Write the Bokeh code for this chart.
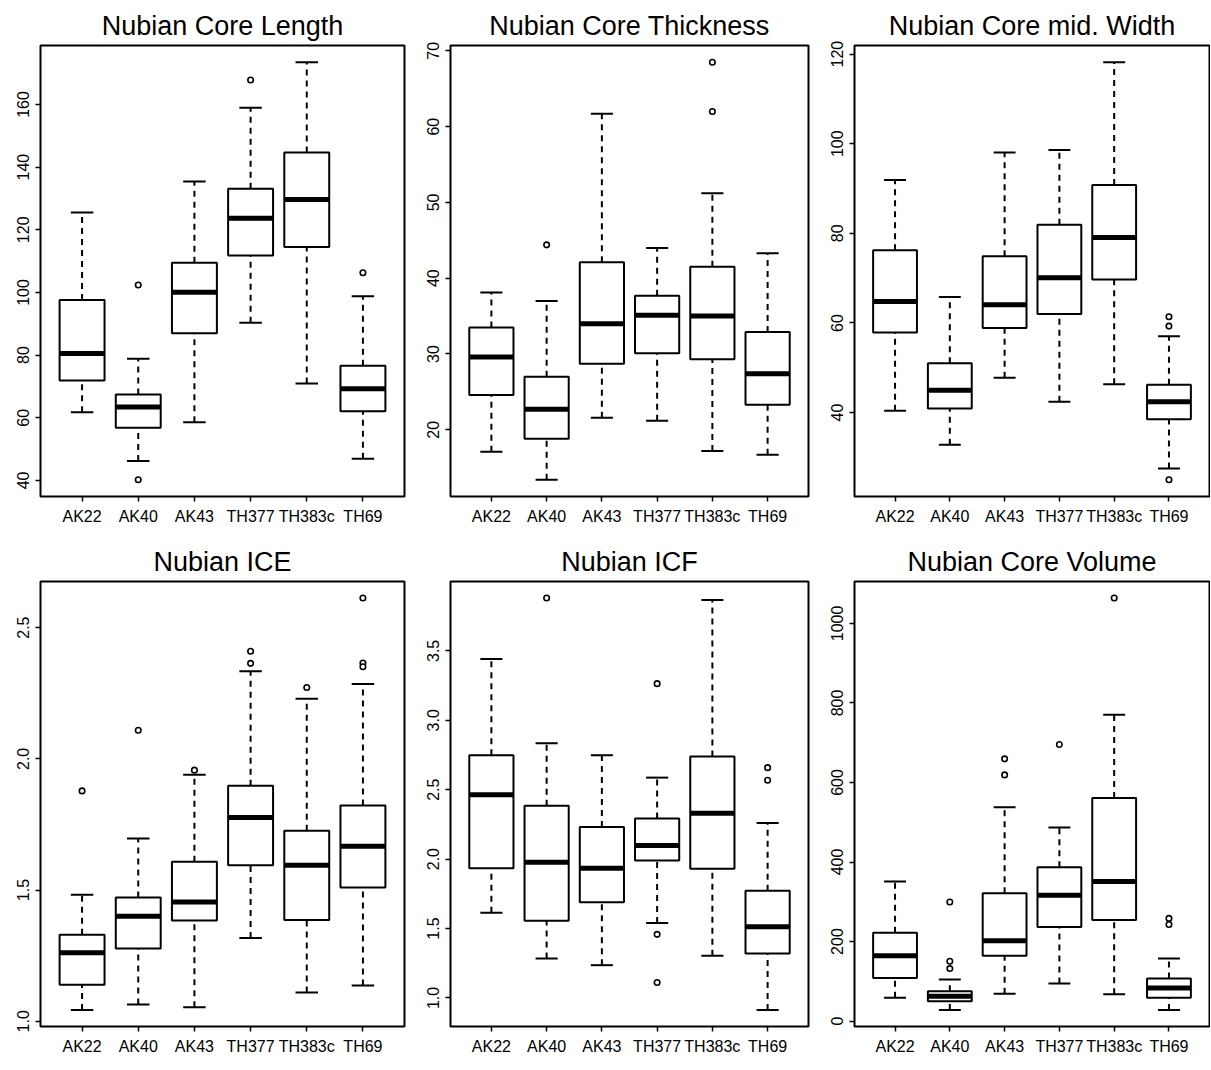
from bokeh.plotting import figure
from bokeh.layouts import gridplot
from bokeh.models import Range1d, FixedTicker
from bokeh.embed import file_html
from bokeh.resources import INLINE

SITES = ["AK22", "AK40", "AK43", "TH377", "TH383c", "TH69"]

# ---- Nubian Core Length
LEN_WLO = [61.8, 46.2, 58.6, 90.3, 70.9, 46.9]
LEN_Q1 = [71.9, 56.8, 87.0, 111.8, 114.5, 62.1]
LEN_MED = [80.5, 63.4, 100.1, 123.7, 129.7, 69.3]
LEN_Q3 = [97.6, 67.4, 109.5, 133.1, 144.7, 76.6]
LEN_WHI = [125.5, 78.8, 135.4, 159.0, 173.5, 98.8]
LEN_OUT_SITE = ["AK40", "AK40", "TH377", "TH69"]
LEN_OUT_VAL = [102.4, 40.2, 167.8, 106.3]
LEN_TICKS = [40, 60, 80, 100, 120, 140, 160]
LEN_TICK_LABELS = ["40", "60", "80", "100", "120", "140", "160"]

# ---- Nubian Core Thickness
THK_WLO = [17.1, 13.4, 21.6, 21.2, 17.2, 16.7]
THK_Q1 = [24.6, 18.8, 28.7, 30.1, 29.3, 23.3]
THK_MED = [29.6, 22.7, 34.0, 35.1, 35.0, 27.4]
THK_Q3 = [33.5, 27.0, 42.1, 37.7, 41.5, 32.9]
THK_WHI = [38.1, 37.0, 61.7, 44.0, 51.2, 43.3]
THK_OUT_SITE = ["AK40", "TH383c", "TH383c"]
THK_OUT_VAL = [44.4, 68.5, 62.0]
THK_TICKS = [20, 30, 40, 50, 60, 70]
THK_TICK_LABELS = ["20", "30", "40", "50", "60", "70"]

# ---- Nubian Core mid. Width
WID_WLO = [40.4, 32.8, 47.8, 42.4, 46.3, 27.5]
WID_Q1 = [57.9, 40.9, 58.9, 62.0, 69.7, 38.5]
WID_MED = [64.8, 45.0, 64.05, 70.1, 79.1, 42.4]
WID_Q3 = [76.25, 51.0, 74.9, 81.9, 90.8, 46.2]
WID_WHI = [91.9, 65.8, 98.05, 98.6, 118.2, 57.05]
WID_OUT_SITE = ["TH69", "TH69", "TH69"]
WID_OUT_VAL = [61.4, 59.3, 25.0]
WID_TICKS = [40, 60, 80, 100, 120]
WID_TICK_LABELS = ["40", "60", "80", "100", "120"]

# ---- Nubian ICE
ICE_WLO = [1.043, 1.064, 1.054, 1.317, 1.110, 1.136]
ICE_Q1 = [1.139, 1.277, 1.384, 1.595, 1.386, 1.510]
ICE_MED = [1.261, 1.400, 1.455, 1.777, 1.595, 1.667]
ICE_Q3 = [1.330, 1.472, 1.608, 1.898, 1.726, 1.822]
ICE_WHI = [1.482, 1.697, 1.939, 2.334, 2.229, 2.285]
ICE_OUT_SITE = ["AK22", "AK40", "AK43", "TH377", "TH377", "TH383c", "TH69", "TH69", "TH69"]
ICE_OUT_VAL = [1.878, 2.109, 1.957, 2.410, 2.364, 2.272, 2.613, 2.365, 2.351]
ICE_TICKS = [1.0, 1.5, 2.0, 2.5]
ICE_TICK_LABELS = ["1.0", "1.5", "2.0", "2.5"]

# ---- Nubian ICF
ICF_WLO = [1.614, 1.284, 1.236, 1.540, 1.304, 0.913]
ICF_Q1 = [1.934, 1.556, 1.689, 1.990, 1.930, 1.320]
ICF_MED = [2.464, 1.978, 1.934, 2.098, 2.330, 1.513]
ICF_Q3 = [2.749, 2.385, 2.231, 2.293, 2.739, 1.773]
ICF_WHI = [3.442, 2.835, 2.749, 2.587, 3.866, 2.260]
ICF_OUT_SITE = ["AK40", "TH377", "TH377", "TH377", "TH69", "TH69"]
ICF_OUT_VAL = [3.881, 3.264, 1.458, 1.111, 2.659, 2.568]
ICF_TICKS = [1.0, 1.5, 2.0, 2.5, 3.0, 3.5]
ICF_TICK_LABELS = ["1.0", "1.5", "2.0", "2.5", "3.0", "3.5"]

# ---- Nubian Core Volume
VOL_WLO = [58.9, 27.8, 69.0, 94.2, 67.3, 27.8]
VOL_Q1 = [108.5, 49.6, 164.0, 236.3, 254.0, 58.9]
VOL_MED = [164.0, 62.2, 201.8, 316.2, 350.7, 83.3]
VOL_Q3 = [222.0, 74.9, 321.3, 386.9, 561.0, 106.8]
VOL_WHI = [350.7, 104.3, 537.4, 487.0, 770.4, 157.3]
VOL_OUT_SITE = ["AK40", "AK40", "AK40", "AK43", "AK43", "TH377", "TH383c", "TH69", "TH69"]
VOL_OUT_VAL = [299.4, 150.5, 132.0, 659.4, 619.0, 695.5, 1063.9, 258.2, 243.0]
VOL_TICKS = [0, 200, 400, 600, 800, 1000]
VOL_TICK_LABELS = ["0", "200", "400", "600", "800", "1000"]

TITLE_FONT = "Liberation Sans"
TICK_FONT = "Liberation Sans"


def boxpanel(title, wlo, q1, med, q3, whi, out_site, out_val, ticks, tick_labels,
             frame_w, frame_h, b_left, b_right, b_top, b_bottom):
    xs = [i + 1 for i in range(len(SITES))]
    lo_all = min(wlo + out_val)
    hi_all = max(whi + out_val)
    pad = (hi_all - lo_all) * 0.04
    n = len(SITES)
    p = figure(
        frame_width=frame_w, frame_height=frame_h,
        x_range=Range1d(0.5 - 0.04 * n, n + 0.5 + 0.04 * n),
        y_range=Range1d(lo_all - pad, hi_all + pad),
        output_backend="svg", toolbar_location=None,
        min_border_left=b_left, min_border_right=b_right,
        min_border_top=b_top, min_border_bottom=b_bottom,
        title=title,
    )
    p.title.text_font = TITLE_FONT
    p.title.text_font_size = "27px"
    p.title.text_font_style = "normal"
    p.title.align = "center"
    p.title.text_color = "black"
    p.title.standoff = 10
    p.background_fill_color = "white"
    p.border_fill_color = "white"
    p.outline_line_color = "black"
    p.outline_line_width = 2
    p.xgrid.visible = False
    p.ygrid.visible = False

    half = 0.4
    cap = 0.2
    # whiskers (dashed)
    p.segment(xs, q3, xs, whi, line_color="black", line_width=2, line_dash="6 5")
    p.segment(xs, wlo, xs, q1, line_color="black", line_width=2, line_dash="6 5")
    # caps
    p.segment([x - cap for x in xs], whi, [x + cap for x in xs], whi, line_color="black", line_width=2)
    p.segment([x - cap for x in xs], wlo, [x + cap for x in xs], wlo, line_color="black", line_width=2)
    # boxes
    p.vbar(x=xs, width=2 * half, bottom=q1, top=q3, fill_color="white",
           line_color="black", line_width=2)
    # medians
    p.segment([x - half for x in xs], med, [x + half for x in xs], med,
              line_color="black", line_width=5)
    # outliers
    ox = [SITES.index(s) + 1 for s in out_site]
    p.scatter(ox, out_val, marker="circle", size=5.5, fill_color="white",
              line_color="black", line_width=1.6)

    p.xaxis.ticker = FixedTicker(ticks=xs)
    p.xaxis.major_label_overrides = {x: s for x, s in zip(xs, SITES)}
    p.yaxis.ticker = FixedTicker(ticks=ticks)
    p.yaxis.major_label_overrides = {t: l for t, l in zip(ticks, tick_labels)}
    p.yaxis.major_label_orientation = "vertical"
    for ax in (p.xaxis, p.yaxis):
        ax.axis_line_color = None
        ax.major_tick_line_color = "black"
        ax.major_tick_line_width = 1.5
        ax.major_tick_out = 5
        ax.major_tick_in = 0
        ax.minor_tick_line_color = None
        ax.major_label_text_font = TICK_FONT
        ax.major_label_text_color = "black"
    p.xaxis.major_label_text_font_size = "16px"
    p.yaxis.major_label_text_font_size = "16px"
    p.xaxis.major_label_standoff = 6
    p.yaxis.major_label_standoff = 6
    return p


# column geometry: (frame width, left border, right border)
COLS = [(364, 40, 14), (358, 32, 14), (355, 32, 1)]
# row geometry: (frame height, top border, bottom border)
ROWS = [(451, 45, 42), (445, 43, 40)]

p1 = boxpanel("Nubian Core Length", LEN_WLO, LEN_Q1, LEN_MED, LEN_Q3, LEN_WHI,
              LEN_OUT_SITE, LEN_OUT_VAL, LEN_TICKS, LEN_TICK_LABELS,
              COLS[0][0], ROWS[0][0], COLS[0][1], COLS[0][2], ROWS[0][1], ROWS[0][2])
p2 = boxpanel("Nubian Core Thickness", THK_WLO, THK_Q1, THK_MED, THK_Q3, THK_WHI,
              THK_OUT_SITE, THK_OUT_VAL, THK_TICKS, THK_TICK_LABELS,
              COLS[1][0], ROWS[0][0], COLS[1][1], COLS[1][2], ROWS[0][1], ROWS[0][2])
p3 = boxpanel("Nubian Core mid. Width", WID_WLO, WID_Q1, WID_MED, WID_Q3, WID_WHI,
              WID_OUT_SITE, WID_OUT_VAL, WID_TICKS, WID_TICK_LABELS,
              COLS[2][0], ROWS[0][0], COLS[2][1], COLS[2][2], ROWS[0][1], ROWS[0][2])
p4 = boxpanel("Nubian ICE", ICE_WLO, ICE_Q1, ICE_MED, ICE_Q3, ICE_WHI,
              ICE_OUT_SITE, ICE_OUT_VAL, ICE_TICKS, ICE_TICK_LABELS,
              COLS[0][0], ROWS[1][0], COLS[0][1], COLS[0][2], ROWS[1][1], ROWS[1][2])
p5 = boxpanel("Nubian ICF", ICF_WLO, ICF_Q1, ICF_MED, ICF_Q3, ICF_WHI,
              ICF_OUT_SITE, ICF_OUT_VAL, ICF_TICKS, ICF_TICK_LABELS,
              COLS[1][0], ROWS[1][0], COLS[1][1], COLS[1][2], ROWS[1][1], ROWS[1][2])
p6 = boxpanel("Nubian Core Volume", VOL_WLO, VOL_Q1, VOL_MED, VOL_Q3, VOL_WHI,
              VOL_OUT_SITE, VOL_OUT_VAL, VOL_TICKS, VOL_TICK_LABELS,
              COLS[2][0], ROWS[1][0], COLS[2][1], COLS[2][2], ROWS[1][1], ROWS[1][2])

grid = gridplot([[p1, p2, p3], [p4, p5, p6]], toolbar_location=None)

open("out.html", "w").write(file_html(grid, INLINE))
